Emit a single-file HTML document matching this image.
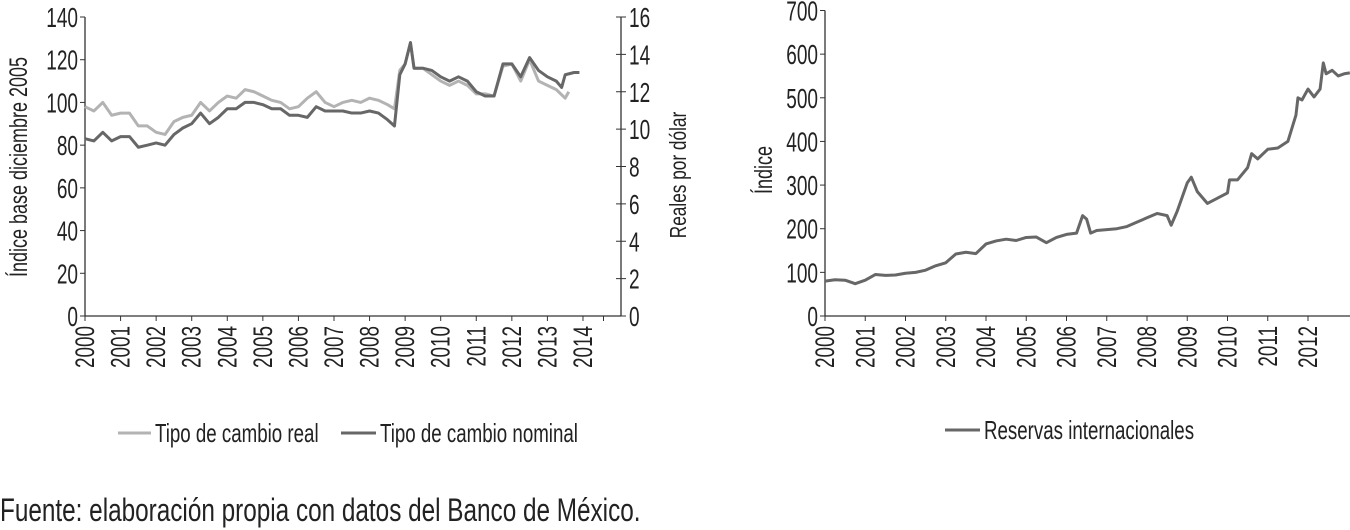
<!DOCTYPE html>
<html><head><meta charset="utf-8"><style>
body{margin:0;background:#fff;width:1350px;height:530px;overflow:hidden}
svg{display:block}
text{font-family:"Liberation Sans",sans-serif;fill:#222}
</style></head><body>
<svg id="c" width="1350" height="530"></svg>
<script>
// Left chart data (time in fractional years)
const realT=[2000,2000.25,2000.5,2000.75,2001,2001.25,2001.5,2001.75,2002,2002.25,2002.5,2002.75,2003,2003.25,2003.5,2003.75,2004,2004.25,2004.5,2004.75,2005,2005.25,2005.5,2005.75,2006,2006.25,2006.5,2006.75,2007,2007.25,2007.5,2007.75,2008,2008.25,2008.5,2008.7,2008.85,2009,2009.15,2009.25,2009.5,2009.75,2010,2010.25,2010.5,2010.75,2011,2011.25,2011.5,2011.75,2012,2012.25,2012.5,2012.75,2013,2013.25,2013.5,2013.6];
const realV=[98,96,100,94,95,95,89,89,86,85,91,93,94,100,96,100,103,102,106,105,103,101,100,97,98,102,105,100,98,100,101,100,102,101,99,97,115,118,128,116,116,113,110,108,110,108,104,104,103,117,118,110,120,110,108,106,102,105];
const nomT=[2000,2000.25,2000.5,2000.75,2001,2001.25,2001.5,2001.75,2002,2002.25,2002.5,2002.75,2003,2003.25,2003.5,2003.75,2004,2004.25,2004.5,2004.75,2005,2005.25,2005.5,2005.75,2006,2006.25,2006.5,2006.75,2007,2007.25,2007.5,2007.75,2008,2008.25,2008.5,2008.7,2008.85,2009,2009.15,2009.25,2009.5,2009.75,2010,2010.25,2010.5,2010.75,2011,2011.25,2011.5,2011.75,2012,2012.25,2012.5,2012.75,2013,2013.25,2013.4,2013.5,2013.75,2013.9];
const nomV=[9.49,9.37,9.83,9.37,9.6,9.6,9.03,9.14,9.26,9.14,9.71,10.06,10.29,10.86,10.29,10.63,11.09,11.09,11.43,11.43,11.31,11.09,11.09,10.74,10.74,10.63,11.2,10.97,10.97,10.97,10.86,10.86,10.97,10.86,10.51,10.17,12.91,13.49,14.63,13.26,13.26,13.14,12.8,12.57,12.8,12.57,12,11.77,11.77,13.49,13.49,12.8,13.83,13.14,12.8,12.57,12.23,12.91,13.03,13.03];
const leftTicks=[0,20,40,60,80,100,120,140];
const rightTicks=[0,2,4,6,8,10,12,14,16];
const leftYears=[2000,2001,2002,2003,2004,2005,2006,2007,2008,2009,2010,2011,2012,2013,2014];
// Right chart data
const resT=[2000,2000.25,2000.5,2000.75,2001,2001.25,2001.5,2001.75,2002,2002.25,2002.5,2002.75,2003,2003.25,2003.5,2003.75,2004,2004.25,2004.5,2004.75,2005,2005.25,2005.5,2005.75,2006,2006.25,2006.4,2006.5,2006.6,2006.75,2007,2007.25,2007.5,2007.75,2008,2008.25,2008.5,2008.6,2008.75,2009,2009.1,2009.25,2009.5,2009.75,2010,2010.05,2010.25,2010.5,2010.6,2010.75,2011,2011.25,2011.5,2011.7,2011.75,2011.85,2012,2012.15,2012.3,2012.38,2012.45,2012.6,2012.75,2012.9,2013.04];
const resV=[80,83,82,74,82,95,93,94,98,100,105,115,122,142,146,143,165,172,176,173,180,181,168,180,187,190,230,222,190,196,198,200,205,215,225,235,230,208,240,305,318,285,258,270,282,312,312,340,372,360,382,385,400,460,500,495,520,502,520,580,555,563,550,555,557];
const resTicks=[0,100,200,300,400,500,600,700];
const resYears=[2000,2001,2002,2003,2004,2005,2006,2007,2008,2009,2010,2011,2012];

const svg=document.getElementById('c');
const NS='http://www.w3.org/2000/svg';
function el(tag,attrs,parent){const e=document.createElementNS(NS,tag);for(const k in attrs)e.setAttribute(k,attrs[k]);(parent||svg).appendChild(e);return e;}
function txt(s,x,y,size,anchor,rot,sx,parent){const t=el('text',{x:0,y:0,'font-size':size,'text-anchor':anchor,transform:`translate(${x},${y}) rotate(${rot||0}) scale(${sx||0.72},1)`},parent);t.textContent=s;return t;}

// Left axes
const Lx0=85,Lx1=621,LyB=316,LyT=17;
const lx=t=>Lx0+(t-2000)*35.57;
const ly=v=>LyB-(v/140)*(LyB-LyT);
const ry=v=>LyB-(v/16)*(LyB-LyT);
const gL=el('g',{});


el('line',{x1:Lx0,y1:LyT,x2:Lx0,y2:LyB,stroke:'#333','stroke-width':1.3},gL);
el('line',{x1:Lx1,y1:LyT,x2:Lx1,y2:LyB,stroke:'#333','stroke-width':1.3},gL);
el('line',{x1:Lx0,y1:LyB,x2:Lx1,y2:LyB,stroke:'#333','stroke-width':1.3},gL);
leftTicks.forEach(v=>{el('line',{x1:Lx0-5,y1:ly(v),x2:Lx0,y2:ly(v),stroke:'#333'},gL);const t=txt(String(v),Lx0-7,ly(v)+10,28,'end',0,0.68,gL);});
rightTicks.forEach(v=>{el('line',{x1:Lx1-5,y1:ry(v),x2:Lx1+5,y2:ry(v),stroke:'#333'},gL);const t=txt(String(v),Lx1+8,ry(v)+10,28,'start',0,0.68,gL);});
leftYears.forEach(y=>{const x=lx(y);el('line',{x1:x,y1:LyB,x2:x,y2:LyB+5,stroke:'#333'},gL);const t=txt(String(y),x+9,326,27,'end',-90,0.7,gL);});
el('line',{x1:Lx1-17.5,y1:LyB,x2:Lx1-17.5,y2:LyB+5,stroke:'#333'},gL);
let at=txt('Índice base diciembre 2005',27,167,25,'middle',-90,0.72,gL);

at=txt('Reales por dólar',686,175,23,'middle',-90,0.75,gL);

let p=el('polyline',{points:realT.map((t,i)=>lx(t)+','+ly(realV[i])).join(' '),fill:'none',stroke:'#b3b3b3','stroke-width':3,'stroke-linejoin':'round'},gL);

p=el('polyline',{points:nomT.map((t,i)=>lx(t)+','+ry(nomV[i])).join(' '),fill:'none',stroke:'#676767','stroke-width':3,'stroke-linejoin':'round'},gL);

// legend
let lg=el('g',{},gL);
el('line',{x1:118,y1:433,x2:151,y2:433,stroke:'#b3b3b3','stroke-width':3},lg);txt('Tipo de cambio real',155,442,26,'start',0,0.72,lg);
lg=el('g',{},gL);
el('line',{x1:341,y1:433,x2:376,y2:433,stroke:'#676767','stroke-width':3},lg);txt('Tipo de cambio nominal',380,442,26,'start',0,0.72,lg);

// Right chart
const Rx0=825,RyB=316,RyT=10.5;
const rx=t=>Rx0+(t-2000)*40.25;
const rv=v=>RyB-(v/700)*(RyB-RyT);
const gR=el('g',{});


el('line',{x1:Rx0,y1:RyT,x2:Rx0,y2:RyB,stroke:'#333','stroke-width':1.3},gR);
el('line',{x1:Rx0,y1:RyB,x2:1350,y2:RyB,stroke:'#333','stroke-width':1.3},gR);
resTicks.forEach(v=>{el('line',{x1:Rx0-5,y1:rv(v),x2:Rx0,y2:rv(v),stroke:'#333'},gR);const t=txt(String(v),Rx0-7,rv(v)+10,28,'end',0,0.68,gR);});
resYears.forEach(y=>{const x=rx(y);el('line',{x1:x,y1:RyB,x2:x,y2:RyB+5,stroke:'#333'},gR);const t=txt(String(y),x+9,326,27,'end',-90,0.7,gR);});
at=txt('Índice',772,170,25,'middle',-90,0.72,gR);

p=el('polyline',{points:resT.map((t,i)=>rx(t)+','+rv(resV[i])).join(' '),fill:'none',stroke:'#676767','stroke-width':3,'stroke-linejoin':'round'},gR);

lg=el('g',{},gR);
el('line',{x1:945,y1:430,x2:980,y2:430,stroke:'#676767','stroke-width':3},lg);txt('Reservas internacionales',984,439,26,'start',0,0.72,lg);

// footer
const f=txt('Fuente: elaboración propia con datos del Banco de México.',0,521,32,'start',0,0.76);

</script>
</body></html>
